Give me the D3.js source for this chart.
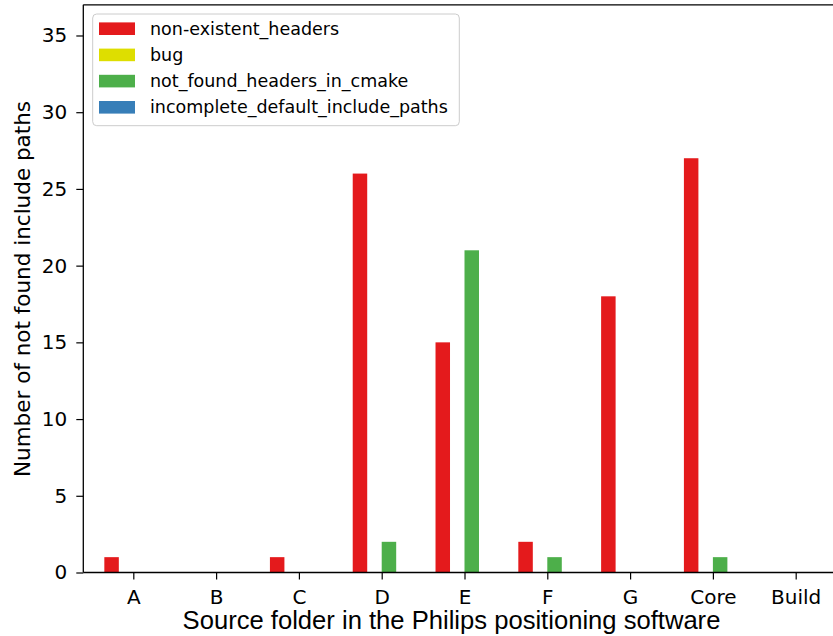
<!DOCTYPE html>
<html>
<head>
<meta charset="utf-8">
<script src="https://cdn.jsdelivr.net/npm/d3@7"></script>
<style>
  html, body { margin: 0; padding: 0; background: #fff; }
  svg { display: block; }
</style>
</head>
<body>
<svg id="chart" width="833" height="636"></svg>
<script>
const categories = ["A", "B", "C", "D", "E", "F", "G", "Core", "Build"];
const seriesNames = ["non-existent_headers", "bug", "not_found_headers_in_cmake", "incomplete_default_include_paths"];
const seriesColors = ["#e41a1c", "#dede00", "#4daf4a", "#377eb8"];
const nonExistentHeaders = [1, 0, 1, 26, 15, 2, 18, 27, 0];
const bug = [0, 0, 0, 0, 0, 0, 0, 0, 0];
const notFoundHeadersInCmake = [0, 0, 0, 2, 21, 1, 0, 1, 0];
const incompleteDefaultIncludePaths = [0, 0, 0, 0, 0, 0, 0, 0, 0];
const yTicks = [0, 5, 10, 15, 20, 25, 30, 35];
const xTitle = "Source folder in the Philips positioning software";
const yTitle = "Number of not found include paths";

const seriesValues = [nonExistentHeaders, bug, notFoundHeadersInCmake, incompleteDefaultIncludePaths];

const svg = d3.select("#chart");
const pLeft = 83.3, pTop = 4.8, pBottom = 572.5, pRight = 845.7;

const x = d3.scaleLinear().domain([-0.604, 8.604]).range([pLeft, pRight]);
const y = d3.scaleLinear().domain([0, 37]).range([pBottom, pTop]);
const barW = 0.175;

// bars
seriesValues.forEach((vals, si) => {
  svg.append("g").selectAll("rect")
    .data(vals.map((v, i) => ({v, i})).filter(d => d.v > 0))
    .join("rect")
    .attr("x", d => x(d.i + (si - 2) * barW))
    .attr("width", d => x(d.i + (si - 1) * barW) - x(d.i + (si - 2) * barW))
    .attr("y", d => y(d.v))
    .attr("height", d => y(0) - y(d.v))
    .attr("fill", seriesColors[si]);
});

// axes
const xAxis = d3.axisBottom(x)
  .tickValues(d3.range(categories.length))
  .tickFormat(i => categories[i])
  .tickSize(7).tickPadding(10.3).tickSizeOuter(0);
const gx = svg.append("g").attr("transform", `translate(0,${pBottom})`).call(xAxis);
gx.select(".domain").remove();
gx.selectAll(".tick line").attr("stroke", "#000").attr("stroke-width", 1.2);
gx.selectAll(".tick text").attr("font-family", "DejaVu Sans").attr("font-size", 20).attr("fill", "#000");

const yAxis = d3.axisLeft(y).tickValues(yTicks).tickSize(7).tickPadding(9).tickSizeOuter(0);
const gy = svg.append("g").attr("transform", `translate(${pLeft},0)`).call(yAxis);
gy.select(".domain").remove();
gy.selectAll(".tick line").attr("stroke", "#000").attr("stroke-width", 1.2);
gy.selectAll(".tick text").attr("font-family", "DejaVu Sans").attr("font-size", 20).attr("fill", "#000");

// spines
const spine = svg.append("g").attr("stroke", "#000").attr("stroke-width", 1.3).attr("fill", "none");
spine.append("line").attr("x1", pLeft).attr("x2", pLeft).attr("y1", pTop).attr("y2", pBottom);
spine.append("line").attr("x1", pLeft).attr("x2", pRight).attr("y1", pTop).attr("y2", pTop);
spine.append("line").attr("x1", pLeft).attr("x2", pRight).attr("y1", pBottom).attr("y2", pBottom);

// titles
svg.append("text")
  .attr("x", 451.5).attr("y", 629)
  .attr("text-anchor", "middle")
  .attr("font-family", "Liberation Sans, Arial, sans-serif")
  .attr("font-size", 25.6).attr("fill", "#000")
  .text(xTitle);

svg.append("text")
  .attr("transform", "translate(30,289) rotate(-90)")
  .attr("text-anchor", "middle")
  .attr("font-family", "DejaVu Sans")
  .attr("font-size", 21.5).attr("fill", "#000")
  .text(yTitle);

// legend
const lg = svg.append("g");
lg.append("rect")
  .attr("x", 92.7).attr("y", 14).attr("width", 366.6).attr("height", 111.7)
  .attr("rx", 4).attr("fill", "#fff").attr("fill-opacity", 0.8)
  .attr("stroke", "#cccccc").attr("stroke-width", 1);
seriesNames.forEach((name, i) => {
  const cy = 28.7 + i * 26.2;
  lg.append("rect").attr("x", 99).attr("y", cy - 6.3).attr("width", 36).attr("height", 12.6)
    .attr("fill", seriesColors[i]);
  lg.append("text").attr("x", 150).attr("y", cy).attr("dy", "0.35em")
    .attr("font-family", "DejaVu Sans").attr("font-size", 17.5).attr("fill", "#000")
    .text(name);
});
</script>
</body>
</html>
